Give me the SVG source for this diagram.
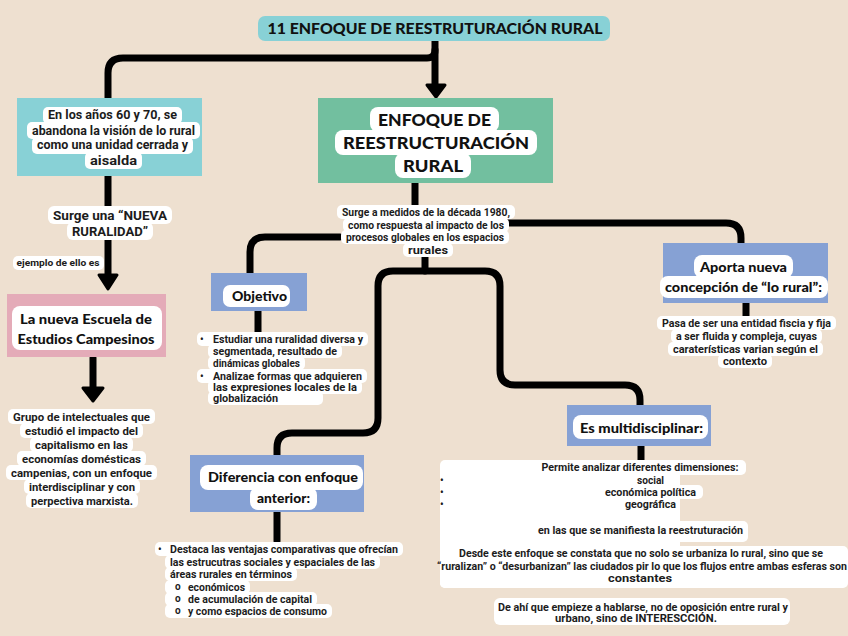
<svg xmlns="http://www.w3.org/2000/svg" width="848" height="636" viewBox="0 0 848 636">
<style>
.w{fill:#fff}
.t{font-family:Roboto,"Liberation Sans",sans-serif;font-weight:bold;fill:#1c1c1c}
.h{font-family:Lato,"Liberation Sans",sans-serif;font-weight:900;fill:#111}
.m{text-anchor:middle}
.c{fill:none;stroke:#000;stroke-width:7;stroke-linecap:round;stroke-linejoin:round}
.a{fill:#000;stroke:#000;stroke-width:3;stroke-linejoin:round}
.teal{fill:#88D1D6}
.green{fill:#72BF9F}
.blue{fill:#86A1D4}
.pink{fill:#E4ABB8}
</style>
<rect width="848" height="636" fill="#EEE0D0"/>

<g id="connectors">
<path class="c" d="M435,40 V50 Q435,58 427,58 H123 Q108,58 108,73 V98"/>
<path class="c" d="M435,50 V86"/>
<polygon class="a" points="427,85 445,85 436,97"/>
<path class="c" d="M108,176 V276"/>
<polygon class="a" points="99,275 117,275 108,289"/>
<path class="c" d="M93,358 V390"/>
<polygon class="a" points="83,388 103,388 93,401"/>
<path class="c" d="M415,183 V210"/>
<path class="c" d="M340,237 H265 Q250,237 250,252 V273"/>
<path class="c" d="M490,223 H726 Q741,223 741,238 V244"/>
<path class="c" d="M425,255 V271 H393 Q378,271 378,286 V418 Q378,433 363,433 H292 Q277,433 277,448 V455"/>
<path class="c" d="M425,271 H485 Q500,271 500,286 V370 Q500,385 515,385 H625 Q640,385 640,400 V405"/>
<path class="c" d="M258,311 V332"/>
<path class="c" d="M746,303 V318"/>
<path class="c" d="M277,512 V541"/>
<path class="c" d="M641,446 V462"/>
</g>

<g id="title">
<rect class="teal" x="258" y="16" width="352" height="25" rx="7"/>
<text class="h m" x="435" y="34" font-size="15" textLength="335" lengthAdjust="spacingAndGlyphs">11 ENFOQUE DE REESTRUTURACIÓN RURAL</text>
</g>

<g id="node-anios">
<rect class="teal" x="17" y="98" width="185" height="78"/>
<rect class="w" x="43" y="107" width="139" height="17" rx="5"/>
<rect class="w" x="27" y="122" width="173" height="17" rx="5"/>
<rect class="w" x="32" y="137" width="161" height="17" rx="5"/>
<rect class="w" x="85" y="152" width="57" height="17" rx="5"/>
<text class="t m" font-size="12" x="112.5" y="119" textLength="129" lengthAdjust="spacingAndGlyphs">En los años 60 y 70, se</text>
<text class="t m" font-size="12" x="113.5" y="135" textLength="163" lengthAdjust="spacingAndGlyphs">abandona la visión de lo rural</text>
<text class="t m" font-size="12" x="112.5" y="149" textLength="151" lengthAdjust="spacingAndGlyphs">como una unidad cerrada y</text>
<text class="t m" font-size="12" x="113.5" y="165" textLength="47" lengthAdjust="spacingAndGlyphs">aisalda</text>
</g>

<g id="node-nueva-ruralidad">
<rect class="w" x="48" y="206" width="124" height="18" rx="6"/>
<rect class="w" x="67" y="222" width="86" height="18" rx="6"/>
<text class="t m" font-size="12.5" x="110" y="219.5" textLength="114" lengthAdjust="spacingAndGlyphs">Surge una “NUEVA</text>
<text class="t m" font-size="12.5" x="110" y="235.5" textLength="76" lengthAdjust="spacingAndGlyphs">RURALIDAD”</text>
</g>

<g id="label-ejemplo">
<rect class="w" x="13" y="256" width="91" height="14" rx="5"/>
<text class="t m" font-size="9" x="58" y="266" textLength="83" lengthAdjust="spacingAndGlyphs">ejemplo de ello es</text>
</g>

<g id="node-escuela">
<rect class="pink" x="7" y="294" width="159" height="63"/>
<rect class="w" x="12" y="306" width="150" height="44" rx="8"/>
<text class="h m" font-size="14" x="86" y="324" textLength="132" lengthAdjust="spacingAndGlyphs">La nueva Escuela de</text>
<text class="h m" font-size="14" x="86" y="344" textLength="137" lengthAdjust="spacingAndGlyphs">Estudios Campesinos</text>
</g>

<g id="node-grupo">
<rect class="w" x="8" y="409" width="147" height="15" rx="5"/>
<rect class="w" x="20" y="423" width="123" height="15" rx="5"/>
<rect class="w" x="30" y="437" width="103" height="15" rx="5"/>
<rect class="w" x="17" y="451" width="129" height="15" rx="5"/>
<rect class="w" x="6" y="465" width="151" height="15" rx="5"/>
<rect class="w" x="24" y="479" width="116" height="15" rx="5"/>
<rect class="w" x="26" y="493" width="112" height="15" rx="5"/>
<text class="t m" font-size="10.5" x="81.5" y="420.5" textLength="137" lengthAdjust="spacingAndGlyphs">Grupo de intelectuales que</text>
<text class="t m" font-size="10.5" x="81.5" y="434.5" textLength="113" lengthAdjust="spacingAndGlyphs">estudió el impacto del</text>
<text class="t m" font-size="10.5" x="81.5" y="448.5" textLength="93" lengthAdjust="spacingAndGlyphs">capitalismo en las</text>
<text class="t m" font-size="10.5" x="81.5" y="462.5" textLength="119" lengthAdjust="spacingAndGlyphs">economías domésticas</text>
<text class="t m" font-size="10.5" x="81.5" y="476.5" textLength="141" lengthAdjust="spacingAndGlyphs">campenias, con un enfoque</text>
<text class="t m" font-size="10.5" x="82" y="490.5" textLength="106" lengthAdjust="spacingAndGlyphs">interdisciplinar y con</text>
<text class="t m" font-size="10.5" x="82" y="504.5" textLength="102" lengthAdjust="spacingAndGlyphs">perpectiva marxista.</text>
</g>

<g id="node-enfoque">
<rect class="green" x="318" y="98" width="235" height="85"/>
<rect class="w" x="370" y="107" width="129" height="25" rx="8"/>
<rect class="w" x="335" y="130" width="202" height="25" rx="8"/>
<rect class="w" x="395" y="153" width="76" height="25" rx="8"/>
<text class="h m" font-size="16" x="434.5" y="126" textLength="113" lengthAdjust="spacingAndGlyphs">ENFOQUE DE</text>
<text class="h m" font-size="16" x="436" y="149" textLength="186" lengthAdjust="spacingAndGlyphs">REESTRUCTURACIÓN</text>
<text class="h m" font-size="16" x="433" y="172" textLength="60" lengthAdjust="spacingAndGlyphs">RURAL</text>
</g>

<g id="node-surge1980">
<rect class="w" x="337" y="205" width="178" height="14" rx="5"/>
<rect class="w" x="343" y="218" width="166" height="14" rx="5"/>
<rect class="w" x="341" y="230" width="168" height="14" rx="5"/>
<rect class="w" x="403" y="243" width="50" height="14" rx="5"/>
<text class="t m" font-size="10" x="426" y="215.5" textLength="168" lengthAdjust="spacingAndGlyphs">Surge a medidos de la década 1980,</text>
<text class="t m" font-size="10" x="426" y="228.5" textLength="156" lengthAdjust="spacingAndGlyphs">como respuesta al impacto de los</text>
<text class="t m" font-size="10" x="425" y="240.5" textLength="158" lengthAdjust="spacingAndGlyphs">procesos globales en los espacios</text>
<text class="t m" font-size="10" x="428" y="253.5" textLength="40" lengthAdjust="spacingAndGlyphs">rurales</text>
</g>

<g id="node-aporta">
<rect class="blue" x="663" y="243" width="165" height="60"/>
<rect class="w" x="694" y="255" width="99" height="23" rx="8"/>
<rect class="w" x="660" y="276" width="168" height="22" rx="8"/>
<text class="h m" font-size="13" x="743.5" y="271.5" textLength="87" lengthAdjust="spacingAndGlyphs">Aporta nueva</text>
<text class="h m" font-size="13" x="743.5" y="291.5" textLength="157" lengthAdjust="spacingAndGlyphs">concepción de “lo rural”:</text>
</g>

<g id="node-pasa">
<rect class="w" x="657" y="316" width="179" height="14" rx="5"/>
<rect class="w" x="671" y="329" width="151" height="14" rx="5"/>
<rect class="w" x="668" y="342" width="155" height="14" rx="5"/>
<rect class="w" x="718" y="354" width="54" height="14" rx="5"/>
<text class="t m" font-size="10" x="746.5" y="326.5" textLength="169" lengthAdjust="spacingAndGlyphs">Pasa de ser una entidad fiscia y fija</text>
<text class="t m" font-size="10" x="746.5" y="339.5" textLength="141" lengthAdjust="spacingAndGlyphs">a ser fluida y compleja, cuyas</text>
<text class="t m" font-size="10" x="745.5" y="352.5" textLength="145" lengthAdjust="spacingAndGlyphs">caraterísticas varian según el</text>
<text class="t m" font-size="10" x="745" y="364.5" textLength="44" lengthAdjust="spacingAndGlyphs">contexto</text>
</g>

<g id="node-objetivo">
<rect class="blue" x="211" y="273" width="96" height="38"/>
<rect class="w" x="223" y="285" width="67" height="22" rx="7"/>
<text class="h m" font-size="13" x="259.5" y="300.5" textLength="55" lengthAdjust="spacingAndGlyphs">Objetivo</text>
</g>

<g id="node-objetivo-list">
<rect class="w" x="197" y="332" width="171" height="14" rx="5"/>
<rect class="w" x="208" y="344" width="134" height="14" rx="5"/>
<rect class="w" x="208" y="356" width="97" height="14" rx="5"/>
<rect class="w" x="197" y="369" width="170" height="14" rx="5"/>
<rect class="w" x="208" y="380" width="154" height="14" rx="5"/>
<rect class="w" x="208" y="391" width="115" height="14" rx="5"/>
<text class="t" font-size="10" x="200" y="342.5">•</text>
<text class="t" font-size="10" x="200" y="379.5">•</text>
<text class="t" font-size="10" x="213" y="342.5" textLength="150" lengthAdjust="spacingAndGlyphs">Estudiar una ruralidad diversa y</text>
<text class="t" font-size="10" x="213" y="354.5" textLength="124" lengthAdjust="spacingAndGlyphs">segmentada, resultado de</text>
<text class="t" font-size="10" x="213" y="366.5" textLength="87" lengthAdjust="spacingAndGlyphs">dinámicas globales</text>
<text class="t" font-size="10" x="213" y="379.5" textLength="149" lengthAdjust="spacingAndGlyphs">Analizae formas que adquieren</text>
<text class="t" font-size="10" x="213" y="390.5" textLength="144" lengthAdjust="spacingAndGlyphs">las expresiones locales de la</text>
<text class="t" font-size="10" x="213" y="401.5" textLength="65" lengthAdjust="spacingAndGlyphs">globalización</text>
</g>

<g id="node-diferencia">
<rect class="blue" x="190" y="455" width="174" height="57"/>
<rect class="w" x="200" y="465" width="163" height="25" rx="8"/>
<rect class="w" x="250" y="487" width="67" height="23" rx="8"/>
<text class="h m" font-size="13" x="283" y="481.5" textLength="150" lengthAdjust="spacingAndGlyphs">Diferencia con enfoque</text>
<text class="h m" font-size="13" x="283.5" y="502.5" textLength="53" lengthAdjust="spacingAndGlyphs">anterior:</text>
</g>

<g id="node-diferencia-list">
<rect class="w" x="155" y="542" width="248" height="14" rx="5"/>
<rect class="w" x="165" y="555" width="215" height="14" rx="5"/>
<rect class="w" x="165" y="567" width="132" height="14" rx="5"/>
<rect class="w" x="165" y="580" width="85" height="14" rx="5"/>
<rect class="w" x="165" y="592" width="152" height="14" rx="5"/>
<rect class="w" x="165" y="604" width="167" height="14" rx="5"/>
<text class="t" font-size="10" x="158" y="552.5">•</text>
<text class="t" font-size="10" x="170" y="552.5" textLength="228" lengthAdjust="spacingAndGlyphs">Destaca las ventajas comparativas que ofrecían</text>
<text class="t" font-size="10" x="170" y="565.5" textLength="205" lengthAdjust="spacingAndGlyphs">las estrucutras sociales y espaciales de las</text>
<text class="t" font-size="10" x="170" y="577.5" textLength="122" lengthAdjust="spacingAndGlyphs">áreas rurales en términos</text>
<text class="t" font-size="10" x="175" y="590">o</text>
<text class="t" font-size="10" x="175" y="602">o</text>
<text class="t" font-size="10" x="175" y="614">o</text>
<text class="t" font-size="10" x="188" y="590.5" textLength="57" lengthAdjust="spacingAndGlyphs">económicos</text>
<text class="t" font-size="10" x="188" y="602.5" textLength="124" lengthAdjust="spacingAndGlyphs">de acumulación de capital</text>
<text class="t" font-size="10" x="188" y="614.5" textLength="139" lengthAdjust="spacingAndGlyphs">y como espacios de consumo</text>
</g>

<g id="node-multi">
<rect class="blue" x="567" y="405" width="144" height="41"/>
<rect class="w" x="573" y="415" width="135" height="24" rx="8"/>
<text class="h m" font-size="13" x="641.5" y="432.5" textLength="123" lengthAdjust="spacingAndGlyphs">Es multidisciplinar:</text>
</g>

<g id="node-multi-text">
<rect class="w" x="440" y="460" width="240" height="128" rx="5"/>
<rect class="w" x="536" y="460" width="210" height="15" rx="5"/>
<rect class="w" x="600" y="485" width="103" height="14" rx="5"/>
<rect class="w" x="440" y="521" width="308" height="21" rx="5"/>
<rect class="w" x="440" y="546" width="408" height="42" rx="5"/>
<rect class="w" x="494" y="598" width="296" height="27" rx="6"/>
<text class="t m" font-size="10" x="640" y="470.5" textLength="197" lengthAdjust="spacingAndGlyphs">Permite analizar diferentes dimensiones:</text>
<text class="t" font-size="10" x="440" y="483.5">•</text>
<text class="t" font-size="10" x="440" y="495.5">•</text>
<text class="t" font-size="10" x="440" y="507.5">•</text>
<text class="t m" font-size="10" x="650.5" y="483.5" textLength="27" lengthAdjust="spacingAndGlyphs">social</text>
<text class="t m" font-size="10" x="650.5" y="495.5" textLength="91" lengthAdjust="spacingAndGlyphs">económica política</text>
<text class="t m" font-size="10" x="650.5" y="507.5" textLength="51" lengthAdjust="spacingAndGlyphs">geográfica</text>
<text class="t m" font-size="10" x="640.5" y="533.5" textLength="205" lengthAdjust="spacingAndGlyphs">en las que se manifiesta la reestruturación</text>
<text class="t m" font-size="10" x="641" y="556.5" textLength="364" lengthAdjust="spacingAndGlyphs">Desde este enfoque se constata que no solo se urbaniza lo rural, sino que se</text>
<text class="t m" font-size="10" x="642" y="569.5" textLength="410" lengthAdjust="spacingAndGlyphs">“ruralizan” o “desurbanizan” las ciudados pir lo que los flujos entre ambas esferas son</text>
<text class="t m" font-size="10" x="640" y="581.5" textLength="64" lengthAdjust="spacingAndGlyphs">constantes</text>
<text class="t m" font-size="10" x="643" y="610.5" textLength="290" lengthAdjust="spacingAndGlyphs">De ahí que empieze a hablarse, no de oposición entre rural y</text>
<text class="t m" font-size="10" x="636" y="621.5" textLength="162" lengthAdjust="spacingAndGlyphs">urbano, sino de INTERESCCIÓN.</text>
</g>
</svg>
